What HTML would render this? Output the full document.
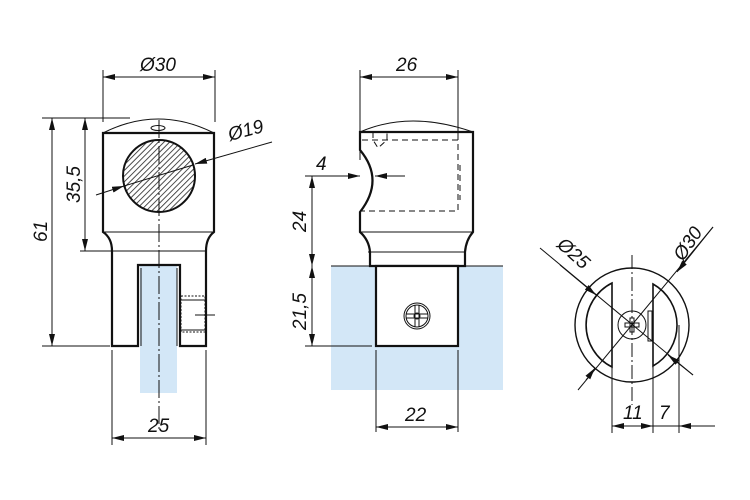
<!DOCTYPE html>
<html><head><style>body{margin:0;background:#fff}svg{display:block}text{font-family:"Liberation Sans",sans-serif;font-style:italic;font-size:19px;fill:#111}</style></head>
<body>
<svg width="750" height="500" viewBox="0 0 750 500" xmlns="http://www.w3.org/2000/svg">
<defs>
<pattern id="h" width="4" height="4" patternUnits="userSpaceOnUse" patternTransform="rotate(45)"><rect width="4" height="4" fill="#fff"/><line x1="0" y1="0" x2="0" y2="4" stroke="#222" stroke-width="1.6"/></pattern>
<marker id="a" markerWidth="12" markerHeight="6" refX="12" refY="3" orient="auto-start-reverse" markerUnits="userSpaceOnUse"><path d="M0,0 L12,3 L0,6z" fill="#111"/></marker>
</defs>
<g stroke="#111" fill="none" stroke-width="1">
<!-- VIEW 1 -->
<rect x="140" y="265" width="37" height="128" fill="#d3e7f7" stroke="none"/>
<path d="M103,133 Q158,105 214,133" />
<path d="M103,133 V232 Q112,238 112,251 V346 H138 V265 H180 V346 H206 V251 Q206,238 214,232 V133 Z" stroke-width="2.2"/>
<line x1="103" y1="232" x2="214" y2="232"/>
<line x1="112" y1="251" x2="206" y2="251"/>
<line x1="141" y1="268" x2="141" y2="346"/><line x1="177" y1="268" x2="177" y2="346"/>
<ellipse cx="158" cy="128" rx="7" ry="2.5"/>
<circle cx="159" cy="176" r="36" fill="url(#h)" stroke-width="2"/>
<line x1="159" y1="120" x2="159" y2="430" stroke-dasharray="18,3,2,3"/>
<rect x="181" y="296" width="24" height="36" stroke-dasharray="2,1.5"/>
<line x1="180" y1="300" x2="205" y2="300"/><line x1="180" y1="330" x2="205" y2="330"/>
<line x1="195" y1="315" x2="215" y2="315"/>
<!-- dims view1 -->
<line x1="103" y1="70" x2="103" y2="122"/><line x1="215" y1="70" x2="215" y2="122"/>
<line x1="103" y1="77" x2="215" y2="77" marker-start="url(#a)" marker-end="url(#a)"/>
<line x1="42" y1="118" x2="130" y2="118"/><line x1="80" y1="251" x2="112" y2="251"/><line x1="42" y1="346" x2="110" y2="346"/>
<line x1="52" y1="118" x2="52" y2="346" marker-start="url(#a)" marker-end="url(#a)"/>
<line x1="85" y1="118" x2="85" y2="251" marker-start="url(#a)" marker-end="url(#a)"/>
<line x1="96" y1="195" x2="124" y2="186" marker-end="url(#a)"/>
<line x1="124" y1="186" x2="193" y2="165"/>
<line x1="272" y1="142" x2="195" y2="164" marker-end="url(#a)"/>
<line x1="112" y1="350" x2="112" y2="445"/><line x1="206" y1="350" x2="206" y2="445"/>
<line x1="112" y1="438" x2="206" y2="438" marker-start="url(#a)" marker-end="url(#a)"/>
<!-- VIEW 2 -->
<rect x="331" y="266" width="172" height="124" fill="#d3e7f7" stroke="none"/>
<line x1="331" y1="266" x2="503" y2="266"/>
<path d="M360,132 Q410,110 473,132"/>
<path d="M360,132 H473 V232 Q466,240 465,252 V266 H370 V252 Q369,240 360,232 V212 Q385,180 360,150 Z" stroke-width="2.2"/>
<line x1="360" y1="232" x2="473" y2="232"/><line x1="368" y1="252" x2="466" y2="252"/>
<rect x="376" y="266" width="82" height="80" fill="#fff" stroke-width="2.2"/>
<path d="M362,140 H458 V211 H362 M373,132 V140 L378,148 L387,140 V132 M460,165 V200" stroke-dasharray="6,4"/>
<circle cx="417" cy="316" r="13"/><circle cx="417" cy="316" r="11"/><circle cx="417" cy="316" r="3"/>
<path d="M406,314 H428 M406,318 H428 M415,305 V327 M419,305 V327"/>
<line x1="360" y1="70" x2="360" y2="160"/><line x1="458" y1="70" x2="458" y2="140"/>
<line x1="360" y1="77" x2="458" y2="77" marker-start="url(#a)" marker-end="url(#a)"/>
<line x1="305" y1="176" x2="360" y2="176" marker-end="url(#a)"/>
<line x1="405" y1="176" x2="375" y2="176" marker-end="url(#a)"/>
<line x1="312" y1="176" x2="312" y2="266" marker-start="url(#a)" marker-end="url(#a)"/>
<line x1="312" y1="266" x2="312" y2="346" marker-start="url(#a)" marker-end="url(#a)"/>
<line x1="305" y1="346" x2="372" y2="346"/>
<line x1="376" y1="350" x2="376" y2="432"/><line x1="458" y1="350" x2="458" y2="432"/>
<line x1="376" y1="427" x2="458" y2="427" marker-start="url(#a)" marker-end="url(#a)"/>
<!-- VIEW 3 -->
<circle cx="632" cy="325" r="57" stroke-width="1.4"/>
<path d="M612,283 A47,47 0 0 0 612,367 Z" stroke-width="1.6"/>
<path d="M653,284 A47,47 0 0 1 653,366 Z" stroke-width="1.6"/>
<circle cx="632" cy="325" r="14"/>
<rect x="625" y="323" width="14" height="4"/><rect x="630" y="318" width="4" height="14"/>
<rect x="648" y="311" width="4" height="30"/>
<line x1="632" y1="255" x2="632" y2="405" stroke-dasharray="14,3,2,3"/>
<line x1="540" y1="248" x2="693" y2="375"/>
<line x1="713" y1="227" x2="578" y2="390"/>
<line x1="560" y1="265" x2="596" y2="295" marker-end="url(#a)"/>
<line x1="693" y1="375" x2="668" y2="355" marker-end="url(#a)"/>
<line x1="713" y1="227" x2="677" y2="272" marker-end="url(#a)"/>
<line x1="586" y1="380" x2="595" y2="368" marker-end="url(#a)"/>
<line x1="612" y1="367" x2="612" y2="433"/><line x1="653" y1="366" x2="653" y2="433"/><line x1="679" y1="325" x2="679" y2="433"/>
<line x1="612" y1="426" x2="653" y2="426" marker-start="url(#a)" marker-end="url(#a)"/>
<line x1="715" y1="426" x2="679" y2="426" marker-end="url(#a)"/>
<line x1="653" y1="426" x2="679" y2="426"/>
</g>
<g>
<text x="140" y="71">Ø30</text>
<text x="230" y="141" transform="rotate(-15 230 141)" font-size="20">Ø19</text>
<text x="47" y="242" transform="rotate(-90 47 242)">61</text>
<text x="80" y="203" transform="rotate(-90 80 203)">35,5</text>
<text x="148" y="432">25</text>
<text x="396" y="71">26</text>
<text x="316" y="170">4</text>
<text x="306" y="232" transform="rotate(-90 306 232)">24</text>
<text x="306" y="330" transform="rotate(-90 306 330)">21,5</text>
<text x="405" y="421">22</text>
<text x="556" y="246" transform="rotate(42 556 246)">Ø25</text>
<text x="683" y="262" transform="rotate(-56 683 262)">Ø30</text>
<text x="623" y="419">11</text>
<text x="659" y="419">7</text>
</g>
</svg>
</body></html>
